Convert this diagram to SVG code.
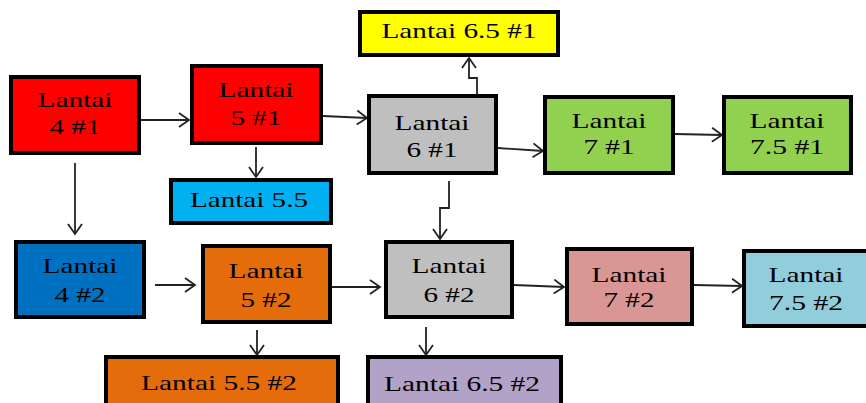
<svg xmlns="http://www.w3.org/2000/svg" width="866" height="403" viewBox="0 0 866 403">
<style>
.box{stroke:#000;stroke-width:4}
.t{font-family:"Liberation Serif","Times New Roman",serif;font-size:22px;fill:#000;text-anchor:middle}
.c{fill:none;stroke:#222;stroke-width:1.8;marker-end:url(#ah)}
</style>
<defs>
<marker id="ah" markerUnits="userSpaceOnUse" markerWidth="14" markerHeight="16" refX="11" refY="8" orient="auto">
<path d="M1,1 L11,8 L1,15" fill="none" stroke="#222" stroke-width="1.8"/>
</marker>
</defs>
<rect width="866" height="403" fill="#fff"/>
<g id="connectors">
<path class="c" d="M141,120 L189,120"/>
<path class="c" d="M323,116 L367,118"/>
<path class="c" d="M498,148 L543,151"/>
<path class="c" d="M675,134 L722,135"/>
<path class="c" d="M256,147 L256,177"/>
<path class="c" d="M477,95 L477,78 L469,78 L469,58"/>
<path class="c" d="M75,163 L75,234"/>
<path class="c" d="M155,285 L195,285"/>
<path class="c" d="M332,287 L380,287"/>
<path class="c" d="M449,181 L449,208 L440,208 L440,239"/>
<path class="c" d="M514,285 L564,287"/>
<path class="c" d="M694,285 L742,286"/>
<path class="c" d="M257,330 L257,355"/>
<path class="c" d="M426,327 L426,355"/>
</g>
<g id="l4-1"><rect class="box" x="11" y="77" width="128" height="76" fill="#FF0000"/>
<text class="t" x="75" y="107" textLength="75" lengthAdjust="spacingAndGlyphs">Lantai</text>
<text class="t" x="75" y="134" textLength="51" lengthAdjust="spacingAndGlyphs">4 #1</text></g>
<g id="l5-1"><rect class="box" x="192" y="66" width="129" height="77" fill="#FF0000"/>
<text class="t" x="256" y="97" textLength="75" lengthAdjust="spacingAndGlyphs">Lantai</text>
<text class="t" x="256" y="125" textLength="51" lengthAdjust="spacingAndGlyphs">5 #1</text></g>
<g id="l5-5"><rect class="box" x="171" y="180" width="160" height="43" fill="#00B0F0"/>
<text class="t" x="249" y="207" textLength="118" lengthAdjust="spacingAndGlyphs">Lantai 5.5</text></g>
<g id="l6-5-1"><rect class="box" x="360" y="12" width="198" height="43" fill="#FFFF00"/>
<text class="t" x="459" y="38" textLength="155" lengthAdjust="spacingAndGlyphs">Lantai 6.5 #1</text></g>
<g id="l6-1"><rect class="box" x="369" y="96" width="127" height="77" fill="#BFBFBF"/>
<text class="t" x="432" y="130" textLength="75" lengthAdjust="spacingAndGlyphs">Lantai</text>
<text class="t" x="432" y="157" textLength="51" lengthAdjust="spacingAndGlyphs">6 #1</text></g>
<g id="l7-1"><rect class="box" x="545" y="97" width="128" height="76" fill="#92D050"/>
<text class="t" x="609" y="128" textLength="75" lengthAdjust="spacingAndGlyphs">Lantai</text>
<text class="t" x="609" y="154" textLength="51" lengthAdjust="spacingAndGlyphs">7 #1</text></g>
<g id="l7-5-1"><rect class="box" x="724" y="97" width="127" height="76" fill="#92D050"/>
<text class="t" x="787" y="128" textLength="75" lengthAdjust="spacingAndGlyphs">Lantai</text>
<text class="t" x="787" y="154" textLength="74" lengthAdjust="spacingAndGlyphs">7.5 #1</text></g>
<g id="l4-2"><rect class="box" x="16" y="242" width="128" height="75" fill="#0070C0"/>
<text class="t" x="80" y="273" textLength="75" lengthAdjust="spacingAndGlyphs">Lantai</text>
<text class="t" x="80" y="302" textLength="51" lengthAdjust="spacingAndGlyphs">4 #2</text></g>
<g id="l5-2"><rect class="box" x="203" y="246" width="127" height="76" fill="#E46C0A"/>
<text class="t" x="266" y="278" textLength="75" lengthAdjust="spacingAndGlyphs">Lantai</text>
<text class="t" x="266" y="307" textLength="51" lengthAdjust="spacingAndGlyphs">5 #2</text></g>
<g id="l6-2"><rect class="box" x="386" y="242" width="126" height="75" fill="#BFBFBF"/>
<text class="t" x="449" y="273" textLength="75" lengthAdjust="spacingAndGlyphs">Lantai</text>
<text class="t" x="449" y="302" textLength="51" lengthAdjust="spacingAndGlyphs">6 #2</text></g>
<g id="l7-2"><rect class="box" x="567" y="249" width="125" height="75" fill="#DA9694"/>
<text class="t" x="629" y="282" textLength="75" lengthAdjust="spacingAndGlyphs">Lantai</text>
<text class="t" x="629" y="307" textLength="51" lengthAdjust="spacingAndGlyphs">7 #2</text></g>
<g id="l7-5-2"><rect class="box" x="744" y="251" width="124" height="75" fill="#92CDDC"/>
<text class="t" x="806" y="282" textLength="75" lengthAdjust="spacingAndGlyphs">Lantai</text>
<text class="t" x="806" y="310" textLength="74" lengthAdjust="spacingAndGlyphs">7.5 #2</text></g>
<g id="l5-5-2"><rect class="box" x="106" y="357" width="232" height="60" fill="#E46C0A"/>
<text class="t" x="219" y="390" textLength="156" lengthAdjust="spacingAndGlyphs">Lantai 5.5 #2</text></g>
<g id="l6-5-2"><rect class="box" x="368" y="357" width="193" height="60" fill="#B2A2C7"/>
<text class="t" x="462" y="391" textLength="156" lengthAdjust="spacingAndGlyphs">Lantai 6.5 #2</text></g>
</svg>
